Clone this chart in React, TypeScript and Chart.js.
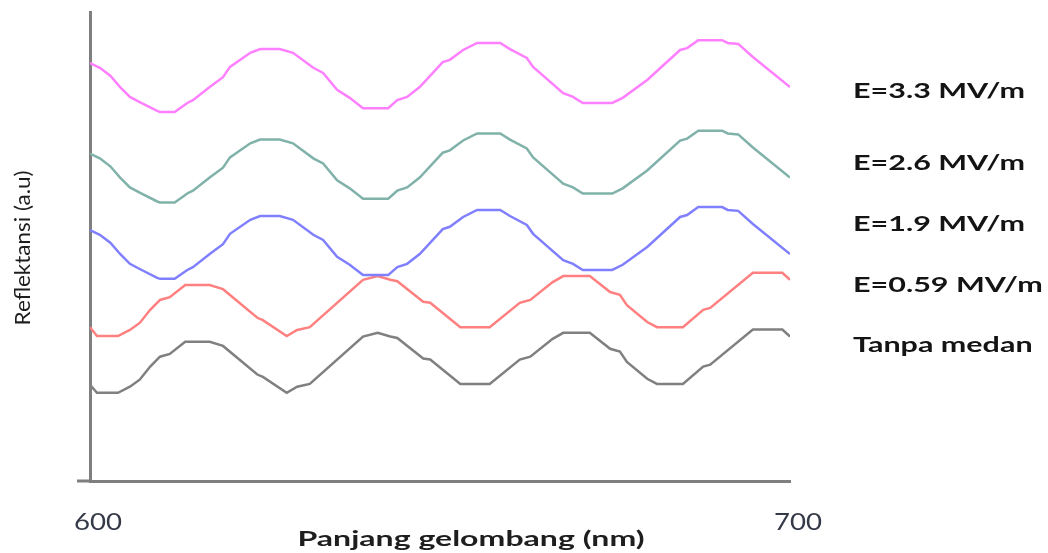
import React, { useEffect, useRef } from "react";
import { Chart, registerables } from "chart.js";

Chart.register(...registerables);

// Wavelength grid (nm) shared by the three upper curves
const wavelengthA = [
  600, 601.4, 602.9, 604.3, 605.7, 607.1, 609.6, 610, 612.1, 613.9, 614.7, 617.1, 619, 620, 622.9, 624.3,
  627.1, 629, 631.9, 633.3, 635.3, 637.1, 639, 642.6, 643.9, 645.3, 647.1, 650.4, 651.4, 653.3, 655.3,
  658.6, 660, 662.4, 663.3, 667.6, 669, 670.4, 674.6, 676.1, 679.6, 684.3, 685.3, 686.9, 690.3, 691.1,
  692.6, 694.7, 700,
];

const reflE33 = [
  89.1, 88.1, 86.4, 84.0, 81.9, 80.8, 78.9, 78.7, 78.7, 80.6, 81.2, 84.0, 86.1, 88.3, 91.3, 92.1,
  92.1, 91.3, 88.1, 87.0, 83.4, 81.7, 79.5, 79.5, 81.2, 81.9, 84.0, 89.3, 89.8, 91.9, 93.4,
  93.4, 92.1, 90.2, 88.3, 82.7, 81.9, 80.6, 80.6, 81.7, 85.5, 91.9, 92.3, 94.0, 94.0, 93.4,
  93.2, 90.4, 84.0,
];

const reflE26 = [
  69.8, 68.8, 67.1, 64.7, 62.6, 61.5, 59.6, 59.4, 59.4, 61.3, 61.9, 64.7, 66.8, 69.0, 72.0, 72.8,
  72.8, 72.0, 68.8, 67.7, 64.1, 62.4, 60.2, 60.2, 61.9, 62.6, 64.7, 70.0, 70.5, 72.6, 74.1,
  74.1, 72.8, 70.9, 69.0, 63.4, 62.6, 61.3, 61.3, 62.4, 66.2, 72.6, 73.0, 74.7, 74.7, 74.1,
  73.9, 71.1, 64.7,
];

const reflE19 = [
  53.5, 52.5, 50.8, 48.4, 46.3, 45.2, 43.3, 43.1, 43.1, 45.0, 45.6, 48.4, 50.5, 52.7, 55.7, 56.5,
  56.5, 55.7, 52.5, 51.4, 47.8, 46.1, 43.9, 43.9, 45.6, 46.3, 48.4, 53.7, 54.2, 56.3, 57.8,
  57.8, 56.5, 54.6, 52.7, 47.1, 46.3, 45.0, 45.0, 46.1, 49.9, 56.3, 56.7, 58.4, 58.4, 57.8,
  57.6, 54.8, 48.4,
];

// Wavelength grid (nm) shared by the two lower curves
const wavelengthB = [
  600, 601, 604, 605.7, 607.1, 608.6, 610, 611.4, 613.6, 617.1, 619, 623.9, 624.7, 628.1, 629.6, 631.4,
  639, 641.1, 642.9, 643.9, 647.6, 648.6, 652.9, 657.1, 661.4, 662.9, 666.1, 667.6, 671.4, 674.3,
  675.7, 676.7, 679.6, 681, 684.7, 687.6, 688.6, 694.7, 698.9, 700,
];

const reflE059 = [
  32.8, 30.9, 30.9, 32.2, 33.7, 36.5, 38.6, 39.2, 41.8, 41.8, 40.9, 34.8, 34.3, 30.9, 32.2, 32.8,
  42.9, 43.7, 42.9, 42.6, 38.2, 38.0, 32.8, 32.8, 38.0, 38.6, 42.4, 43.7, 43.7, 40.3,
  39.7, 37.5, 33.9, 32.8, 32.8, 36.5, 36.9, 44.4, 44.4, 42.9,
];

const reflNoField = [
  20.5, 18.8, 18.8, 20.1, 21.6, 24.4, 26.5, 27.1, 29.7, 29.7, 28.8, 22.7, 22.2, 18.8, 20.1, 20.7,
  30.8, 31.6, 30.8, 30.5, 26.1, 25.9, 20.7, 20.7, 25.9, 26.5, 30.3, 31.6, 31.6, 28.2,
  27.6, 25.4, 21.8, 20.7, 20.7, 24.4, 24.8, 32.3, 32.3, 30.8,
];

const seriesLabels = ["E=3.3 MV/m", "E=2.6 MV/m", "E=1.9 MV/m", "E=0.59 MV/m", "Tanpa medan"];
const xTickValues = [600, 700];
const xAxisTitle = "Panjang gelombang (nm)";
const yAxisTitle = "Reflektansi (a.u)";

const COLORS = ["#ff80ff", "#80b2aa", "#8080ff", "#ff8080", "#808080"];
const LEGEND_Y = [92, 164, 225, 286, 346];

function toPoints(xs: number[], ys: number[]) {
  return xs.map((x, i) => ({ x, y: ys[i] }));
}

function stretchedText(
  ctx: CanvasRenderingContext2D,
  text: string,
  x: number,
  y: number,
  font: string,
  color: string,
  sx: number,
  align: CanvasTextAlign
) {
  ctx.save();
  ctx.font = font;
  ctx.fillStyle = color;
  ctx.textAlign = align;
  ctx.textBaseline = "middle";
  ctx.translate(x, y);
  ctx.scale(sx, 1);
  ctx.fillText(text, 0, 0);
  ctx.restore();
}

const textPlugin = {
  id: "textPlugin",
  beforeDatasetsDraw(chart: any) {
    const ctx = chart.ctx as CanvasRenderingContext2D;
    const area = chart.chartArea;
    ctx.save();
    ctx.strokeStyle = "#7f7f7f";
    ctx.lineWidth = 3;
    ctx.beginPath();
    ctx.moveTo(77, area.bottom);
    ctx.lineTo(area.left, area.bottom);
    ctx.stroke();
    ctx.restore();
  },
  afterDraw(chart: any) {
    const ctx = chart.ctx as CanvasRenderingContext2D;
    const xScale = chart.scales.x;

    // labels on the right
    const legendFont = "bold 20px Lato";
    ctx.save();
    ctx.font = legendFont;
    const refW = ctx.measureText(seriesLabels[0]).width;
    ctx.restore();
    const lsx = 172 / refW;
    chart.data.datasets.forEach((ds: any, i: number) => {
      stretchedText(ctx, ds.label, 853, LEGEND_Y[i], legendFont, "#141414", lsx, "left");
    });

    // x tick labels
    const tickFont = "23px Lato";
    ctx.save();
    ctx.font = tickFont;
    const tW = ctx.measureText(String(xTickValues[0])).width;
    ctx.restore();
    const tsx = 48 / tW;
    xTickValues.forEach((v) => {
      stretchedText(ctx, String(v), xScale.getPixelForValue(v) + 8, 523, tickFont, "#353a48", tsx, "center");
    });

    // x axis title
    const titleFont = "bold 20px Lato";
    ctx.save();
    ctx.font = titleFont;
    const xtW = ctx.measureText(xAxisTitle).width;
    ctx.restore();
    stretchedText(ctx, xAxisTitle, 471, 540, titleFont, "#1e1e1e", 347 / xtW, "center");

    // y axis title (rotated)
    const yFont = "21px Lato";
    ctx.save();
    ctx.font = yFont;
    const ytW = ctx.measureText(yAxisTitle).width;
    ctx.translate(23, 248);
    ctx.rotate(-Math.PI / 2);
    ctx.scale(155 / ytW, 1);
    ctx.fillStyle = "#1e1e1e";
    ctx.textAlign = "center";
    ctx.textBaseline = "middle";
    ctx.fillText(yAxisTitle, 0, 0);
    ctx.restore();
  },
};

export default function App() {
  const canvasRef = useRef<HTMLCanvasElement | null>(null);

  useEffect(() => {
    document.body.style.margin = "0";
    const canvas = canvasRef.current;
    if (!canvas) return;
    const mk = (label: string, xs: number[], ys: number[], color: string) => ({
      label,
      data: toPoints(xs, ys),
      borderColor: color,
      backgroundColor: color,
      borderWidth: 2.5,
      pointRadius: 0,
      tension: 0,
      fill: false,
    });
    const chart = new Chart(canvas, {
      type: "line",
      data: {
        datasets: [
          mk(seriesLabels[0], wavelengthA, reflE33, COLORS[0]),
          mk(seriesLabels[1], wavelengthA, reflE26, COLORS[1]),
          mk(seriesLabels[2], wavelengthA, reflE19, COLORS[2]),
          mk(seriesLabels[3], wavelengthB, reflE059, COLORS[3]),
          mk(seriesLabels[4], wavelengthB, reflNoField, COLORS[4]),
        ],
      },
      options: {
        animation: false,
        responsive: false,
        devicePixelRatio: 1,
        layout: { padding: { left: 90, right: 258, top: 12, bottom: 72 } },
        plugins: { legend: { display: false }, tooltip: { enabled: false } },
        scales: {
          x: {
            type: "linear",
            min: 600,
            max: 700,
            grid: { display: false, drawTicks: false },
            ticks: { display: false },
            border: { display: true, color: "#7f7f7f", width: 3 },
            afterFit: (s: any) => {
              s.height = 0;
            },
          },
          y: {
            type: "linear",
            min: 0,
            max: 100,
            grid: { display: false, drawTicks: false },
            ticks: { display: false },
            border: { display: true, color: "#7f7f7f", width: 3 },
            afterFit: (s: any) => {
              s.width = 0;
            },
          },
        },
      },
      plugins: [textPlugin],
    });
    return () => chart.destroy();
  }, []);

  return (
    <div style={{ width: 1048, height: 553, background: "#fff" }}>
      <canvas ref={canvasRef} width={1048} height={553} style={{ display: "block" }} />
    </div>
  );
}
